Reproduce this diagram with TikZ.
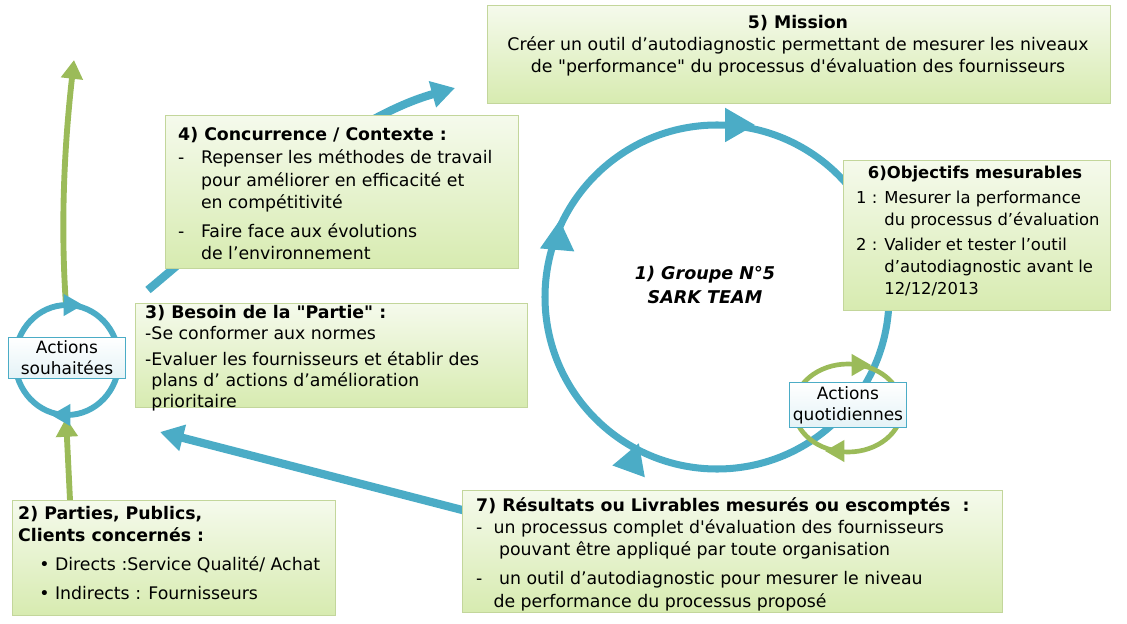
\documentclass[tikz,border=0pt]{standalone}
\usepackage{fontspec}
\setmainfont{DejaVu Sans}[Ligatures=TeXOff]
\usetikzlibrary{arrows.meta,shapes.geometric}
\definecolor{bl}{HTML}{4BACC6}
\definecolor{gr}{HTML}{9BBB59}
\definecolor{bxb}{HTML}{C3D69B}
\definecolor{bxt}{HTML}{F5FAEC}
\definecolor{bxm}{HTML}{D7EBB0}
\tikzset{
 box/.style={draw=bxb,line width=1pt,top color=bxt,bottom color=bxm},
 txt/.style={anchor=north west,align=left,font=\fontsize{14.8}{19}\selectfont,inner sep=0pt},
 lbl/.style={draw=bl,line width=1pt,fill=white,top color=white,bottom color=bl!15,align=center,font=\fontsize{14.5}{18}\selectfont,inner sep=3pt},
 blarr/.style={bl,line width=7pt,-{Triangle[length=20pt,width=22pt]}},
 grarr/.style={gr,line width=5pt,-{Triangle[length=16pt,width=18pt]}},
 tri/.style={fill=#1,regular polygon,regular polygon sides=3,inner sep=0pt},
}
\begin{document}
\begin{tikzpicture}[x=0.03cm,y=-0.03cm]
\useasboundingbox (0,0) rectangle (1127,624);
% connectors (behind boxes)
\coordinate (a1) at (455,88);
\draw[blarr] (148,290) .. controls (220,230) and (340,120) .. (a1);
\coordinate (a2) at (160,432);
\coordinate (a3) at (470,512);
\draw[blarr] (a3) -- (a2);
% big cycle
\coordinate (cc) at (717,297);
\draw[bl,line width=6pt] (cc) circle (172);
\node[tri=bl,minimum size=34pt,rotate=-90] (t1) at (735,125) {};
\node[tri=bl,minimum size=34pt,rotate=-5] (t2) at (558,240) {};
\node[tri=bl,minimum size=34pt,rotate=100] (t3) at (632,462) {};
\node[font=\bfseries\itshape\fontsize{15}{20}\selectfont,align=center] (grp) at (705,285) {1) Groupe N°5\\SARK TEAM};
% green small cycle
\draw[gr,line width=4pt] (848,408) ellipse (54 and 44);
\node[tri=gr,minimum size=22pt,rotate=-90] at (858,365) {};
\node[tri=gr,minimum size=22pt,rotate=90] at (838,451) {};
\node[lbl,minimum width=113*0.03cm] (aq) at (848,405) {Actions\\quotidiennes};
% left cycle
\draw[grarr] (70,500) -- (66,418);
\draw[grarr] (66,305) .. controls (60,220) and (65,140) .. (74,60);
\draw[bl,line width=5pt] (67,360) ellipse (52 and 55);
\node[tri=bl,minimum size=22pt,rotate=-90] at (70,305) {};
\node[tri=bl,minimum size=22pt,rotate=90] at (64,415) {};
\node[lbl,minimum width=117*0.03cm] (as) at (67,358) {Actions\\souhaitées};
% boxes
\node[box,minimum width=623*0.03cm,minimum height=98*0.03cm,anchor=north west] (b5) at (487,5) {};
\node[txt,anchor=north,align=center] at (798,15) {\textbf{5) Mission}\\Créer un outil d’autodiagnostic permettant de mesurer les niveaux\\de "performance" du processus d'évaluation des fournisseurs};
\node[box,minimum width=353*0.03cm,minimum height=153*0.03cm,anchor=north west] (b4) at (165,115) {};
\node[txt] at (178,127) {\textbf{4) Concurrence / Contexte :}\\[1pt]
-\ \ \ Repenser les méthodes de travail\\\phantom{-\ \ \ }pour améliorer en efficacité et\\\phantom{-\ \ \ }en compétitivité\\[6pt]
-\ \ \ Faire face aux évolutions\\\phantom{-\ \ \ }de l’environnement};
\node[box,minimum width=267*0.03cm,minimum height=150*0.03cm,anchor=north west] (b6) at (843,160) {};
\node[txt,font=\fontsize{14}{19}\selectfont] at (856,166) {\hspace*{10pt}\textbf{6)Objectifs mesurables}\\[2pt]
1 : Mesurer la performance\\\phantom{1 : }du processus d’évaluation\\[2pt]
2 : Valider et tester l’outil\\\phantom{2 : }d’autodiagnostic avant le\\\phantom{2 : }12/12/2013};
\node[box,minimum width=392*0.03cm,minimum height=104*0.03cm,anchor=north west] (b3) at (135,303) {};
\node[txt,font=\fontsize{14.8}{18}\selectfont] at (145,305) {\textbf{3) Besoin de la "Partie" :}\\-Se conformer aux normes\\[4pt]
-Evaluer les fournisseurs et établir des\\\phantom{-}plans d’ actions d’amélioration\\\phantom{-}prioritaire};
\node[box,minimum width=323*0.03cm,minimum height=115*0.03cm,anchor=north west] (b2) at (12,500) {};
\node[txt] at (18,506) {\textbf{2) Parties, Publics,}\\\textbf{Clients concernés :}\\[6pt]
\hspace*{18pt}• Directs :Service Qualité/ Achat\\[5pt]
\hspace*{18pt}• Indirects : Fournisseurs};
\node[box,minimum width=540*0.03cm,minimum height=122*0.03cm,anchor=north west] (b7) at (462,490) {};
\node[txt] at (476,497) {\textbf{7) Résultats ou Livrables mesurés ou escomptés \ :}\\
-\ \ un processus complet d'évaluation des fournisseurs\\\phantom{-\ \ \ }pouvant être appliqué par toute organisation\\[6pt]
-\ \ \ un outil d’autodiagnostic pour mesurer le niveau\\\phantom{-\ \ }de performance du processus proposé};
\end{tikzpicture}
\end{document}
